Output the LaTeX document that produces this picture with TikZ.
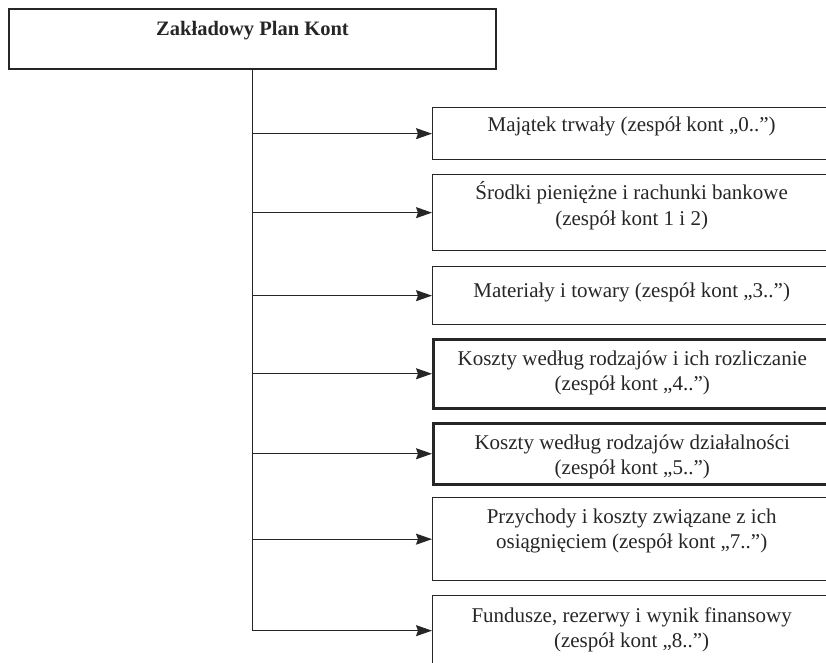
\documentclass[tikz,border=0pt]{standalone}
\usepackage{fontspec}
\setmainfont{Liberation Serif}
\usetikzlibrary{arrows.meta}

\tikzset{
  konto/.style={draw, line width=1.3pt, anchor=north west, minimum width=398pt, inner sep=0pt},
  gruby/.style={line width=2.5pt},
  every label/.style={align=center, inner sep=0pt},
}

\begin{document}
\begin{tikzpicture}[x=1pt,y=-1pt,color=black!85,line width=1.3pt,
  font=\fontsize{21}{25.5}\selectfont,
  >={Stealth[length=16pt,width=11pt,inset=2pt]}]
  \useasboundingbox (0,0) rectangle (826,662);
  \clip (0,0) rectangle (826,662);

  \node[konto, line width=2pt, minimum width=487pt, minimum height=60pt,
    label={[yshift=8pt]center:\fontsize{20.5}{25}\selectfont\bfseries Zakładowy Plan Kont}] (zpk) at (8,8) {};

  \node[konto, minimum height=52pt,
    label={[yshift=7pt]center:Majątek trwały (zespół kont „0..”)}] (k0) at (432,107) {};
  \node[konto, minimum height=76pt,
    label={[yshift=7pt]center:Środki pieniężne i rachunki bankowe\\(zespół kont 1 i 2)}] (k12) at (432,174) {};
  \node[konto, minimum height=58pt,
    label={[yshift=3pt]center:Materiały i towary (zespół kont „3..”)}] (k3) at (432,266) {};
  \node[konto, gruby, minimum height=69pt,
    label={[yshift=1pt]center:Koszty według rodzajów i ich rozliczanie\\(zespół kont „4..”)}] (k4) at (432,338) {};
  \node[konto, gruby, minimum height=61pt,
    label={[yshift=-3pt]center:Koszty według rodzajów działalności\\(zespół kont „5..”)}] (k5) at (432,422) {};
  \node[konto, minimum height=83pt,
    label={[yshift=8pt]center:Przychody i koszty związane z ich\\osiągnięciem (zespół kont „7..”)}] (k7) at (432,497) {};
  \node[konto, minimum height=70pt,
    label={[yshift=1pt]center:{Fundusze, rezerwy i wynik finansowy\\(zespół kont „8..”)}}] (k8) at (432,595) {};

  \draw[->] (zpk.south) |- (k8.west);
  \path[->]
  (zpk.south |- k0.west) edge (k0.west)
  (zpk.south |- k12.west) edge (k12.west)
  (zpk.south |- k3.west) edge (k3.west)
  (zpk.south |- k4.west) edge (k4.west)
  (zpk.south |- k5.west) edge (k5.west)
  (zpk.south |- k7.west) edge (k7.west)
  ;
\end{tikzpicture}
\end{document}
